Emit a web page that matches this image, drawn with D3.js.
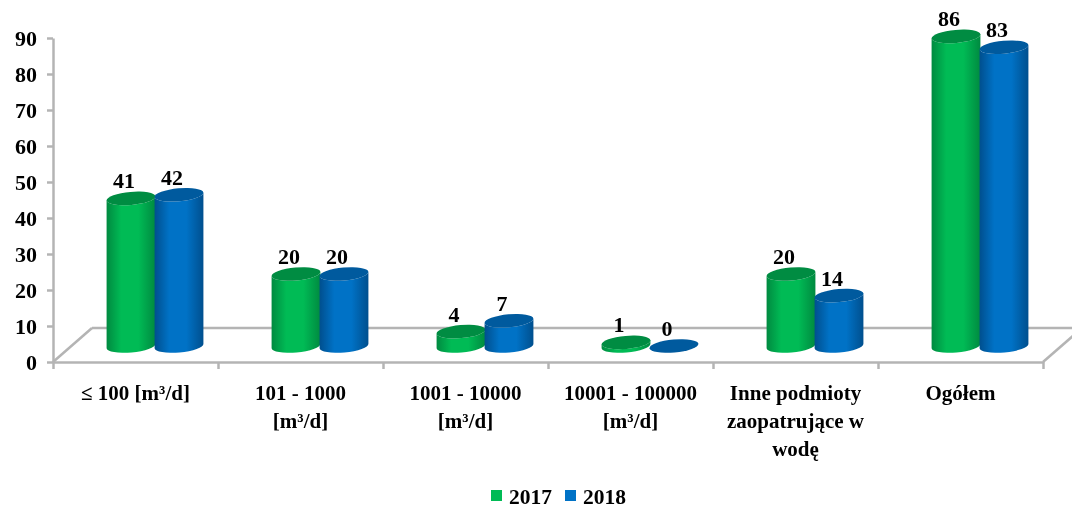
<!DOCTYPE html>
<html>
<head>
<meta charset="utf-8">
<script src="https://cdn.jsdelivr.net/npm/d3@7/dist/d3.min.js"></script>
<style>
html, body { margin: 0; padding: 0; background: #fff; }
svg { display: block; filter: blur(0.6px); }
text { font-family: "Liberation Serif", serif; font-weight: bold; fill: #000; }
.axis path, .axis line { stroke: #b4b4b4; stroke-width: 2.5; }
</style>
</head>
<body>
<script>
let categories = [
  ["≤ 100 [m³/d]"],
  ["101 - 1000", "[m³/d]"],
  ["1001 - 10000", "[m³/d]"],
  ["10001 - 100000", "[m³/d]"],
  ["Inne podmioty", "zaopatrujące w", "wodę"],
  ["Ogółem"]
];
let series = ["2017", "2018"];
let values2017 = [41, 20, 4, 1, 20, 86];
let values2018 = [42, 20, 7, 0, 14, 83];
let yTicks = [0, 10, 20, 30, 40, 50, 60, 70, 80, 90];

let w = 1072;
let h = 509;
let left = 53;
let right = 1043;
let bottom = 362;
let top_ = 38;
let depthX = 39;
let depthY = 34;
let barW = 48;
let rx = 24.5;
let ry = 6.5;
let tilt = -5;

let colors = {
  "2017": { edge: "#008a40", mid: "#00bb55", top: "#008c42" },
  "2018": { edge: "#004f8e", mid: "#0072c6", top: "#005a9e" }
};

let svg = d3.select("body").append("svg")
  .attr("width", w)
  .attr("height", h);

let xScale = d3.scaleBand()
  .domain(d3.range(categories.length))
  .range([left, right]);

let xSeries = d3.scaleBand()
  .domain(series)
  .range([-barW, barW]);

let xEdge = d3.scaleLinear()
  .domain([0, categories.length])
  .range([left, right]);

let yScale = d3.scaleLinear()
  .domain([0, 90])
  .range([bottom, top_]);

// gradients for the cylinder sides
let defs = svg.append("defs");
series.forEach(s => {
  let g = defs.append("linearGradient").attr("id", "grad" + s);
  g.append("stop").attr("offset", "0%").attr("stop-color", colors[s].edge);
  g.append("stop").attr("offset", "30%").attr("stop-color", colors[s].mid);
  g.append("stop").attr("offset", "65%").attr("stop-color", colors[s].mid);
  g.append("stop").attr("offset", "100%").attr("stop-color", colors[s].edge);
});

// floor: back line and the two slanted sides
let floor = svg.append("g").attr("fill", "none").attr("stroke", "#b4b4b4").attr("stroke-width", 2.5);
floor.append("line")
  .attr("x1", left + depthX).attr("y1", bottom - depthY)
  .attr("x2", w).attr("y2", bottom - depthY);
floor.append("line")
  .attr("x1", left).attr("y1", bottom)
  .attr("x2", left + depthX).attr("y2", bottom - depthY);
floor.append("line")
  .attr("x1", right).attr("y1", bottom)
  .attr("x2", right + depthX).attr("y2", bottom - depthY);

let yAxis = d3.axisLeft(yScale)
  .tickValues(yTicks)
  .tickSize(6)
  .tickSizeOuter(0)
  .tickPadding(10);

svg.append("g")
  .attr("class", "axis")
  .attr("transform", "translate(" + left + ",0)")
  .call(yAxis)
  .selectAll("text")
  .style("font-size", "22px")
  .attr("font-weight", "bold");

let xAxis = d3.axisBottom(xEdge)
  .tickValues(d3.range(categories.length + 1))
  .tickFormat("")
  .tickSize(7)
  .tickSizeOuter(0);

svg.append("g")
  .attr("class", "axis")
  .attr("transform", "translate(0," + bottom + ")")
  .call(xAxis);

// cylinders
let cosT = Math.cos(tilt * Math.PI / 180);
let sinT = Math.sin(tilt * Math.PI / 180);

function sidePath(cx, yTop, yBase) {
  let dx = rx * cosT;
  let dy = rx * sinT;
  return "M" + (cx - dx) + "," + (yTop - dy) +
    "L" + (cx - dx) + "," + (yBase - dy) +
    "A" + rx + "," + ry + " " + tilt + " 0 0 " + (cx + dx) + "," + (yBase + dy) +
    "L" + (cx + dx) + "," + (yTop + dy) +
    "A" + rx + "," + ry + " " + tilt + " 0 1 " + (cx - dx) + "," + (yTop - dy) + "Z";
}

let bars = [];
categories.forEach((c, i) => {
  bars.push({ i: i, s: "2017", v: values2017[i] });
  bars.push({ i: i, s: "2018", v: values2018[i] });
});

let offsetY = depthY / 2 - 1;

let group = svg.selectAll(".bar")
  .data(bars)
  .enter()
  .append("g")
  .attr("class", "bar");

function barCx(d) {
  return xScale(d.i) + xScale.bandwidth() / 2 + depthX / 2 + xSeries(d.s) + xSeries.bandwidth() / 2;
}

group.append("path")
  .attr("d", d => sidePath(barCx(d), yScale(d.v) - offsetY, yScale(0) - offsetY))
  .attr("fill", d => "url(#grad" + d.s + ")");

group.append("ellipse")
  .attr("rx", rx)
  .attr("ry", ry)
  .attr("transform", d => "translate(" + barCx(d) + "," + (yScale(d.v) - offsetY) + ") rotate(" + tilt + ")")
  .attr("fill", d => colors[d.s].top);

group.append("text")
  .attr("x", d => barCx(d) - 7)
  .attr("y", d => yScale(d.v) - offsetY - 10)
  .attr("text-anchor", "middle")
  .style("font-size", "22px")
  .text(d => d.v);

// category labels
svg.selectAll(".cat")
  .data(categories)
  .enter()
  .append("text")
  .attr("class", "cat")
  .attr("text-anchor", "middle")
  .style("font-size", "21px")
  .each(function(lines, i) {
    d3.select(this).selectAll("tspan")
      .data(lines)
      .enter()
      .append("tspan")
      .attr("x", xScale(i) + xScale.bandwidth() / 2)
      .attr("y", (d, j) => 400 + j * 28)
      .text(d => d);
  });

// legend
let legendX = { "2017": 491, "2018": 565 };
series.forEach(s => {
  svg.append("rect")
    .attr("x", legendX[s])
    .attr("y", 490)
    .attr("width", 11)
    .attr("height", 11)
    .attr("fill", colors[s].mid);
  svg.append("text")
    .attr("x", legendX[s] + 18)
    .attr("y", 504)
    .style("font-size", "21.5px")
    .text(s);
});
</script>
</body>
</html>
